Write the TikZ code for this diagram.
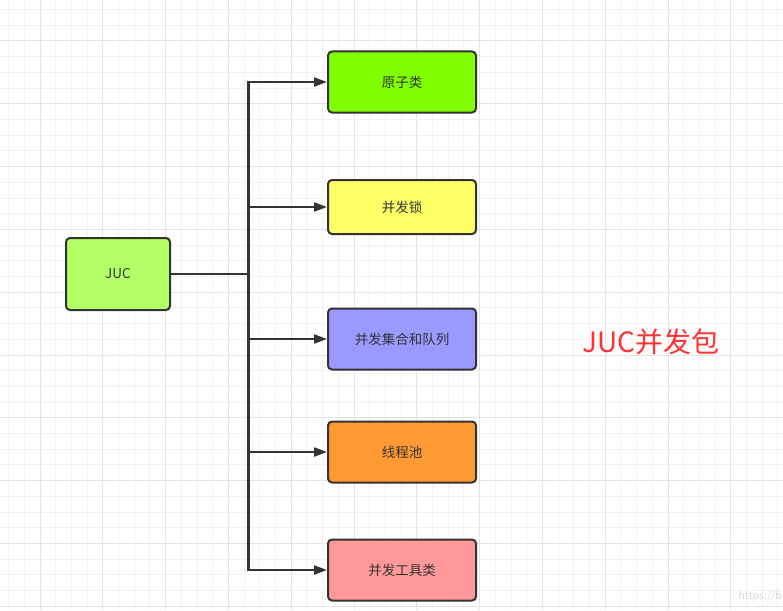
\documentclass[tikz,border=0pt]{standalone}
\usepackage{fontspec}
\newfontfamily\cjk{Noto Sans CJK SC}
\usetikzlibrary{arrows.meta}

\definecolor{linegray}{HTML}{333333}
\definecolor{gridminor}{HTML}{F2F2F2}
\definecolor{gridmajor}{HTML}{E4E4E4}
\definecolor{jucgreen}{HTML}{B3FF66}
\definecolor{yzlgreen}{HTML}{80FF00}
\definecolor{bfsyellow}{HTML}{FFFF66}
\definecolor{jhdlblue}{HTML}{9999FF}
\definecolor{xccorange}{HTML}{FF9933}
\definecolor{gjlpink}{HTML}{FF9999}
\definecolor{titlered}{HTML}{FF3333}

\begin{document}
\begin{tikzpicture}[x=1pt,y=-1pt]
\tikzset{ >={Triangle[length=13pt,width=9pt]},
  box/.style={draw=linegray, line width=2pt, rounded corners=4pt, inner sep=0pt,
    minimum width=148pt, minimum height=61pt, text=linegray,
    font=\cjk\fontsize{13.5}{16}\selectfont},
  conn/.style={->, draw=linegray, line width=2.2pt},
}
\useasboundingbox (0,0) rectangle (783,610);
\fill [white] (0,0) rectangle (783,610);

% grid
\foreach \k in {-2,...,47} {
  \pgfmathsetmacro{\gx}{40+15.7*\k}
  \draw [gridminor, line width=1pt] (\gx,0) -- (\gx,610);
}
\foreach \k in {-2,...,36} {
  \pgfmathsetmacro{\gy}{41+15.7*\k}
  \draw [gridminor, line width=1pt] (0,\gy) -- (783,\gy);
}
\foreach \k in {0,...,11} {
  \pgfmathsetmacro{\gx}{40+62.8*\k}
  \draw [gridmajor, line width=1pt] (\gx,0) -- (\gx,610);
}
\foreach \k in {0,...,9} {
  \pgfmathsetmacro{\gy}{41+62.8*\k}
  \draw [gridmajor, line width=1pt] (0,\gy) -- (783,\gy);
}

\node [box, fill=jucgreen, minimum width=104pt, minimum height=72pt] (JUC) at (118,274) {JUC};

\node [box, fill=yzlgreen] (YZL) at (402,82) {原子类};
\node [box, fill=bfsyellow, minimum height=54pt] (BFS) at (402,207) {并发锁};
\node [box, fill=jhdlblue] (JHDL) at (402,339) {并发集合和队列};
\node [box, fill=xccorange] (XCC) at (402,452) {线程池};
\node [box, fill=gjlpink] (GJL) at (402,570) {并发工具类};

\coordinate (bus) at (248.5,274);

\draw [conn] (JUC.east) -- (bus) |- (YZL.west);
\draw [conn] (JUC.east) -- (bus) |- (BFS.west);
\draw [conn] (JUC.east) -- (bus) |- (JHDL.west);
\draw [conn] (JUC.east) -- (bus) |- (XCC.west);
\draw [conn] (JUC.east) -- (bus) |- (GJL.west);

\node [text=titlered, font=\cjk\fontsize{28}{33}\selectfont] (TITLE) at (651,342) {JUC并发包};

\node [text=black!15, font=\cjk\fontsize{10.5}{12}\selectfont, anchor=east, inner sep=1pt] (WM) at (783,597) {https://b};

\end{tikzpicture}
\end{document}
